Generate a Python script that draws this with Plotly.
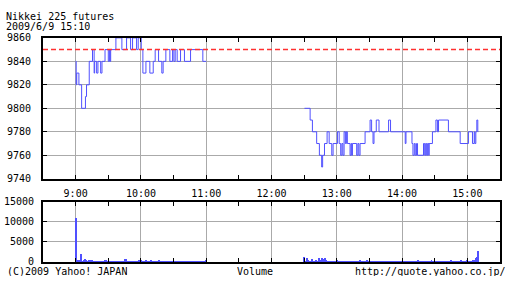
import pandas as pd
import plotly.graph_objects as go

# ---------------- data ----------------
title = "Nikkei 225 futures"
stamp = "2009/6/9 15:10"
prev_close = 9850

# morning session: change points, minutes after 9:00
am_min = [0, 0.5, 1, 3, 5.5, 9, 10, 12.5, 15.5, 17,
          17.5, 19.3, 20.5, 23, 24.2, 27, 30, 31, 31.6, 32.2,
          37, 42.5, 46.8, 50.5, 52.3, 56, 57.5, 60.3, 61.8, 64.6,
          68.2, 71.3, 73.1, 76.2, 79.2, 80.4, 82.9, 86.6, 89.1, 90.3,
          91.5, 93.3, 96.4, 100, 105.6, 116.9, 120]
am_px = [9840, 9820, 9830, 9820, 9800, 9810, 9820, 9840, 9850, 9830,
         9840, 9830, 9840, 9830, 9840, 9850, 9840, 9850, 9840, 9850,
         9860, 9850, 9860, 9850, 9860, 9850, 9860, 9850, 9830, 9840,
         9830, 9840, 9850, 9840, 9830, 9840, 9850, 9840, 9850, 9840,
         9850, 9840, 9850, 9840, 9850, 9840, 9840]

# afternoon session: change points, minutes after 12:00
pm_min = [30.3, 35.5, 37.6, 41.5, 44, 46.1, 47, 48.7, 51.1, 53,
          55.4, 56.6, 60.6, 62.2, 63.6, 64.7, 65.6, 66.7, 67.9, 68.8,
          69.7, 72.2, 73.1, 73.7, 74.4, 78.3, 79.4, 80.3, 81.4, 86,
          90.6, 92, 93.3, 94.2, 96.3, 98.8, 107.6, 109.4, 122.9, 123.6,
          129.1, 130, 131.2, 132.1, 133.3, 134.2, 139.7, 140.8, 141.7, 142.6,
          143.5, 144.5, 144.9, 147.9, 151.1, 152.5, 153.5, 162.6, 173.4, 181,
          184.7, 186.3, 186.9, 187.8, 188.7, 189.6, 190]
pm_px = [9800, 9790, 9780, 9770, 9760, 9750, 9760, 9770, 9780, 9770,
         9760, 9770, 9780, 9770, 9760, 9770, 9760, 9780, 9770, 9780,
         9770, 9760, 9770, 9760, 9770, 9760, 9770, 9760, 9770, 9780,
         9790, 9780, 9770, 9780, 9790, 9780, 9790, 9780, 9770, 9780,
         9770, 9760, 9770, 9760, 9770, 9760, 9770, 9760, 9770, 9760,
         9770, 9760, 9770, 9780, 9790, 9780, 9790, 9780, 9770, 9780,
         9770, 9780, 9770, 9780, 9790, 9780, 9780]

# volume per minute, 9:00-11:00
am_vol = [11000, 600, 300, 500, 300, 2200, 200, 300, 600, 900,
          700, 300, 600, 500, 300, 700, 400, 400, 300, 300,
          200, 150, 100, 200, 150, 100, 300, 600, 700, 400,
          300, 100, 150, 100, 200, 100, 100, 150, 300, 100,
          150, 100, 100, 150, 400, 800, 800, 300, 150, 100,
          200, 100, 150, 100, 100, 200, 150, 100, 500, 200,
          600, 300, 400, 200, 300, 500, 200, 150, 300, 500,
          200, 150, 100, 400, 200, 150, 300, 500, 200, 400,
          300, 150, 100, 300, 200, 100, 150, 100, 200, 150,
          100, 100, 150, 100, 200, 100, 100, 150, 100, 100,
          400, 200, 150, 300, 100, 400, 150, 100, 300, 150,
          400, 100, 150, 200, 100, 300, 150, 100, 200, 300,
          500]
# volume per minute, 12:30-15:10
pm_vol = [1400, 400, 200, 1200, 500, 300, 150, 800, 300, 150,
          100, 500, 300, 150, 1200, 600, 1000, 300, 800, 1100,
          500, 200, 300, 150, 250, 100, 150, 400, 100, 150,
          500, 100, 150, 400, 100, 100, 150, 100, 300, 100,
          100, 150, 200, 100, 100, 150, 100, 100, 150, 100,
          100, 550, 100, 150, 100, 250, 100, 100, 550, 150,
          100, 100, 300, 100, 150, 100, 100, 250, 100, 150,
          100, 100, 150, 100, 100, 150, 250, 100, 100, 300,
          100, 150, 100, 100, 150, 100, 100, 150, 100, 100,
          150, 100, 100, 150, 100, 100, 150, 100, 100, 150,
          400, 100, 150, 100, 100, 550, 100, 150, 200, 100,
          150, 100, 150, 100, 100, 150, 100, 500, 300, 150,
          200, 100, 300, 150, 200, 100, 150, 100, 200, 100,
          150, 100, 150, 400, 100, 500, 150, 100, 150, 100,
          100, 200, 100, 150, 500, 100, 150, 300, 100, 150,
          550, 100, 150, 200, 150, 700, 300, 700, 1100, 1300,
          2850]

hour_labels = ["9:00", "10:00", "11:00", "12:00", "13:00", "14:00", "15:00"]
price_ticks = [9740, 9760, 9780, 9800, 9820, 9840, 9860]
vol_ticks = [0, 5000, 10000, 15000]

# ---------------- build ----------------
day = pd.Timestamp("2009-06-09")
t9 = day + pd.Timedelta(hours=9)
t12 = day + pd.Timedelta(hours=12)
t1230 = day + pd.Timedelta(hours=12, minutes=30)
am_t = [t9 + pd.Timedelta(minutes=m) for m in am_min]
pm_t = [t12 + pd.Timedelta(minutes=m) for m in pm_min]
am_vt = [t9 + pd.Timedelta(minutes=i) for i in range(len(am_vol))]
pm_vt = [t1230 + pd.Timedelta(minutes=i) for i in range(len(pm_vol))]
hour_vals = [day + pd.Timedelta(hours=h) for h in range(9, 16)]

BLUE = "#5050ff"
GRID = "#aaaaaa"
FONT = "DejaVu Sans Mono"
W, H = 512, 288
xdom = [43 / W, 500 / W]

fig = go.Figure()
for tt, pp in ((am_t, am_px), (pm_t, pm_px)):
    fig.add_trace(go.Scatter(x=tt, y=pp, mode="lines", line=dict(color=BLUE, width=1, shape="hv"),
                             xaxis="x", yaxis="y", showlegend=False, hoverinfo="skip"))
fig.add_trace(go.Bar(x=am_vt + pm_vt, y=am_vol + pm_vol, marker=dict(color=BLUE, line=dict(width=0)),
                     width=50000, xaxis="x2", yaxis="y2", showlegend=False, hoverinfo="skip"))

xr = [day + pd.Timedelta(hours=8, minutes=30), day + pd.Timedelta(hours=15, minutes=30)]
common_x = dict(range=xr, domain=xdom, type="date", tickvals=hour_vals, ticktext=hour_labels,
                showgrid=True, gridcolor=GRID, gridwidth=1, ticks="inside", ticklen=4,
                tickcolor="black", tickwidth=1, showline=True, linecolor="black", linewidth=2,
                mirror="ticks", zeroline=False,
                minor=dict(dtick=1800000, tick0=xr[0], ticks="inside", ticklen=4,
                           tickcolor="black", tickwidth=1, showgrid=False),
                tickfont=dict(family=FONT, size=10, color="black"))
common_y = dict(showgrid=True, gridcolor=GRID, gridwidth=1, ticks="inside", ticklen=4,
                tickcolor="black", tickwidth=1, showline=True, linecolor="black", linewidth=2,
                mirror="ticks", zeroline=False, tickfont=dict(family=FONT, size=10, color="black"))

fig.update_layout(
    width=W, height=H, margin=dict(l=0, r=0, t=0, b=0),
    paper_bgcolor="white", plot_bgcolor="white",
    font=dict(family=FONT, size=10, color="black"),
    bargap=0,
    xaxis=dict(**common_x, anchor="y", ticklabelstandoff=4),
    xaxis2=dict(**common_x, anchor="y2", matches="x", showticklabels=False),
    yaxis=dict(**common_y, range=[9740, 9860], tickvals=price_ticks,
               ticktext=[str(v) for v in price_ticks], domain=[1 - 180.25 / H, 1 - 33.25 / H],
               anchor="x", ticklabelstandoff=8),
    yaxis2=dict(**common_y, range=[0, 15000], tickvals=vol_ticks,
                ticktext=[str(v) for v in vol_ticks], domain=[1 - 267 / H, 1 - 204 / H],
                anchor="x2", ticklabelstandoff=5),
    shapes=[dict(type="line", xref="paper", yref="y", x0=xdom[0], x1=xdom[1], y0=prev_close, y1=prev_close,
                 line=dict(color="#ff3030", width=1.5, dash="5px,3px"), layer="above")],
)

def note(text, px, py, anchor="left"):
    fig.add_annotation(text=text, xref="paper", yref="paper", x=px / W, y=1 - py / H,
                       xanchor=anchor, yanchor="middle", showarrow=False, height=9,
                       borderpad=0, valign="middle",
                       font=dict(family=FONT, size=10, color="black"))

note(title, 5, 11)
note(stamp, 5, 21)
note("(C)2009 Yahoo! JAPAN", 6, 277)
note("Volume", 255, 277, "center")
note("http://quote.yahoo.co.jp/", 507, 277, "right")

fig.write_html("out.html")
